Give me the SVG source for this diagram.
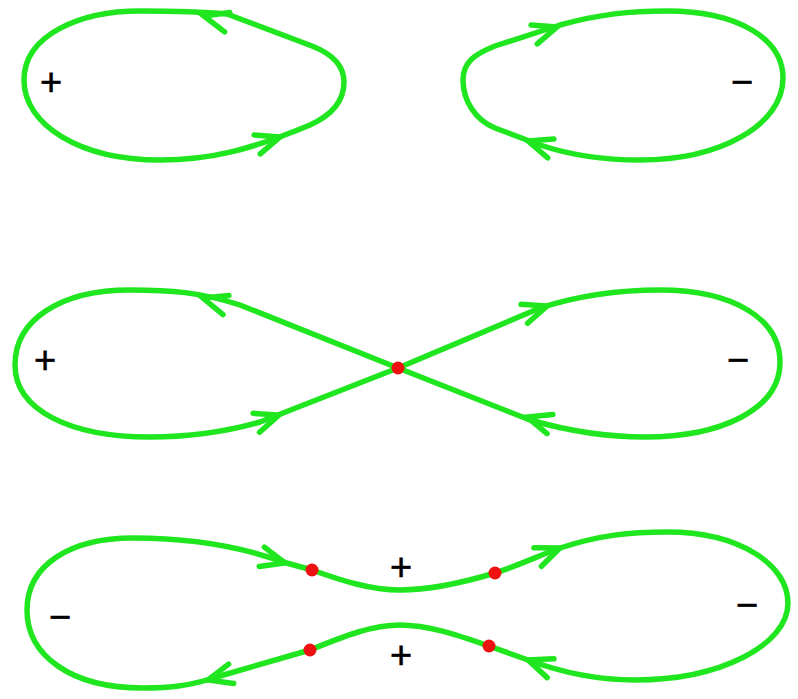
<svg xmlns="http://www.w3.org/2000/svg" xmlns:xlink="http://www.w3.org/1999/xlink" width="798" height="699" viewBox="0 0 798 699">
<style>
.loop{fill:none;stroke:#20e620;stroke-width:5.5;stroke-linejoin:round;stroke-linecap:round}
.ah{fill:none;stroke:#20e620;stroke-width:5.5;stroke-linejoin:miter;stroke-linecap:round}
.dot{fill:#ee1111}
.sign{font-family:"Liberation Sans",Arial,sans-serif;font-size:38px;fill:#000;text-anchor:middle;stroke:#000;stroke-width:0.6}
</style>
<defs>
<path id="arr" d="M-24,-10 L0,0 L-24,10"/>
</defs>
<rect width="798" height="699" fill="#fff"/>
<g id="connectors">
<path class="loop" d="M24,80 C24,35 80,11 140,11 C180,11 205,12 227,14 L312,46 C335,55 344,68 344,82 C344,100 332,115 310,125 C250,150 210,160 160,160 C80,160 24,125 24,80 Z"/>
<path class="loop" d="M463,80 C463,62 475,54 495,46 L560,25 C600,14 630,11 667,11 C740,11 783,40 783,78 C783,125 720,160 640,160 C600,160 570,155 540,145 L495,128 C475,120 463,100 463,80 Z"/>
<path class="loop" d="M398,368 L240,305 C200,292 170,290 130,290 C60,290 15,320 15,365 C15,410 70,437 150,437 C190,437 225,432 260,422 L398,368 Z"/>
<path class="loop" d="M398,368 L540,308 C580,295 620,290 660,290 C735,290 780,320 780,362 C780,410 720,437 645,437 C600,437 565,430 530,420 L398,368 Z"/>
<path class="loop" d="M312,570 C340,580 370,590 400,590 C430,590 465,582 495,573 C520,565 540,555 560,548 C600,535 630,532 667,532 C740,532 788,565 788,603 C788,645 720,680 635,680 C590,680 555,670 528,660 L489,646 C460,636 430,625 400,625 C370,625 340,638 310,650 L220,676 C190,686 170,688 143,688 C70,688 27,655 27,610 C27,565 70,538 133,538 C200,538 250,550 283,562 L312,570 Z"/>
<g class="ah">
<use xlink:href="#arr" transform="translate(204,16) rotate(195)"/>
<use xlink:href="#arr" transform="translate(280,137) rotate(-18)"/>
<use xlink:href="#arr" transform="translate(557,27) rotate(-18)"/>
<use xlink:href="#arr" transform="translate(528,141) rotate(198)"/>
<use xlink:href="#arr" transform="translate(203,298) rotate(197)"/>
<use xlink:href="#arr" transform="translate(279,415) rotate(-19)"/>
<use xlink:href="#arr" transform="translate(547,306) rotate(-19)"/>
<use xlink:href="#arr" transform="translate(527,417) rotate(197)"/>
<use xlink:href="#arr" transform="translate(285,563) rotate(15)"/>
<use xlink:href="#arr" transform="translate(560,548) rotate(-22)"/>
<use xlink:href="#arr" transform="translate(528,660) rotate(200)"/>
<use xlink:href="#arr" transform="translate(208,680) rotate(165)"/>
</g>
</g>
<g id="dots">
<circle class="dot" cx="398" cy="368" r="6.5"/>
<circle class="dot" cx="312" cy="570" r="6.5"/>
<circle class="dot" cx="495" cy="573" r="6.5"/>
<circle class="dot" cx="310" cy="650" r="6.5"/>
<circle class="dot" cx="489" cy="646" r="6.5"/>
</g>
<g id="labels">
<text class="sign" x="51" y="95">+</text>
<text class="sign" x="742" y="95">−</text>
<text class="sign" x="45" y="373">+</text>
<text class="sign" x="738" y="373">−</text>
<text class="sign" x="401" y="580">+</text>
<text class="sign" x="401" y="668">+</text>
<text class="sign" x="60" y="630">−</text>
<text class="sign" x="747" y="618">−</text>
</g>
</svg>
